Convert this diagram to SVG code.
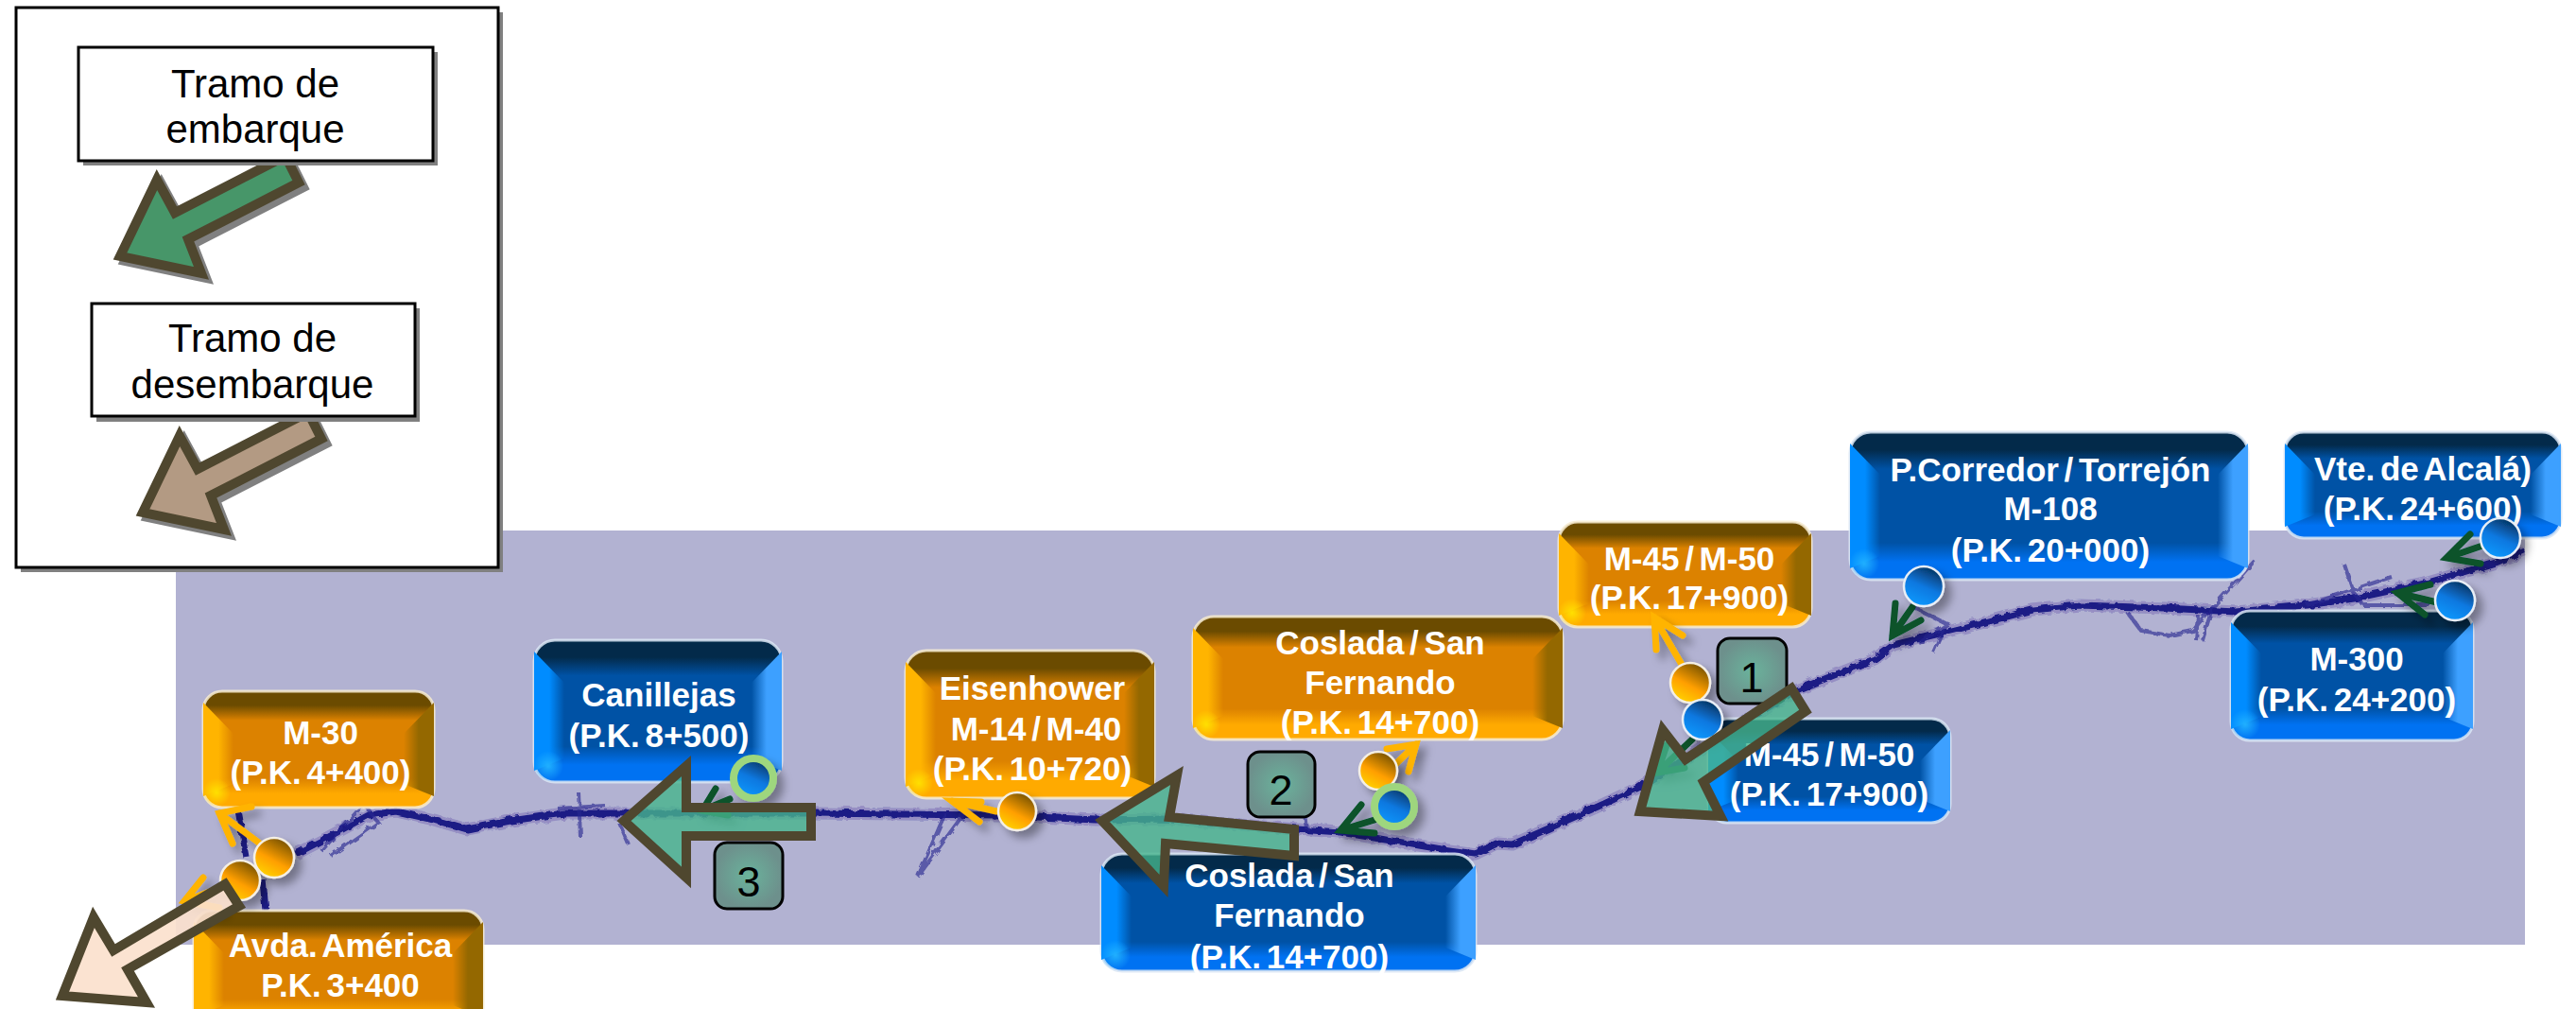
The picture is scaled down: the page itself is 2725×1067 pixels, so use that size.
<svg xmlns="http://www.w3.org/2000/svg" width="2725" height="1067" viewBox="0 0 2725 1067">
<style>
text{font-family:"Liberation Sans",Arial,sans-serif;text-anchor:middle}
.w{font-weight:700;font-size:35px;fill:#fff;word-spacing:-4px}
.k{font-size:42px;fill:#000}
.n{font-size:45px;fill:#000}
.bb{fill:url(#gB);stroke:#dbe6f4;stroke-width:3;stroke-opacity:.85}
.bo{fill:url(#gO);stroke:#f7ecd2;stroke-width:3;stroke-opacity:.85}
.bl{fill:url(#bL)}.br{fill:url(#bR)}.ol{fill:url(#oL)}.or{fill:url(#oR)}
.hb{fill:url(#hB)}.ho{fill:url(#hO)}
.cb{fill:url(#dB);stroke:#e8eef6;stroke-width:2.5}
.co{fill:url(#dO);stroke:#f4efe4;stroke-width:2.5}
.cg{fill:url(#dB);stroke:#9ed67e;stroke-width:8}
.y{fill:none;stroke:#ffb400;stroke-width:7;stroke-linecap:round;stroke-linejoin:miter}
.g{fill:none;stroke:#07522a;stroke-width:7;stroke-linecap:round;stroke-linejoin:miter}
.t{fill:none;stroke:#1c1a85;stroke-width:7;stroke-linejoin:round}
.tt{fill:none;stroke:#2a2890;stroke-width:4;stroke-opacity:.65}
.h{fill:none;stroke:#1c1a85;stroke-width:13;stroke-opacity:.2;stroke-linejoin:round}
.big{stroke:#4f472f;stroke-width:10;stroke-linejoin:miter}
.te{fill:#46b48c;fill-opacity:.8}
.pa{fill:#fbe1cd;fill-opacity:.92}
.sd{fill:#808080}
.badge{fill:url(#gBadge);stroke:#000;stroke-width:3}
.leg{fill:#fff;stroke:#000;stroke-width:3}
</style>
<defs>
<linearGradient id="gB" x1="0" y1="0" x2="0" y2="1"><stop offset="0" stop-color="#032a4a"/><stop offset=".12" stop-color="#032a4a"/><stop offset=".25" stop-color="#0052a5"/><stop offset=".75" stop-color="#0052a5"/><stop offset=".88" stop-color="#0072f2"/><stop offset="1" stop-color="#0072f2"/></linearGradient>
<linearGradient id="gO" x1="0" y1="0" x2="0" y2="1"><stop offset="0" stop-color="#6b4b00"/><stop offset=".12" stop-color="#6b4b00"/><stop offset=".25" stop-color="#dc8200"/><stop offset=".75" stop-color="#dc8200"/><stop offset=".88" stop-color="#ffaa00"/><stop offset="1" stop-color="#ffaa00"/></linearGradient>
<linearGradient id="bL"><stop offset="0" stop-color="#008cff"/><stop offset=".5" stop-color="#008cff"/><stop offset="1" stop-color="#008cff" stop-opacity="0"/></linearGradient>
<linearGradient id="bR"><stop offset="0" stop-color="#3da0ff" stop-opacity="0"/><stop offset=".5" stop-color="#3da0ff"/><stop offset="1" stop-color="#3da0ff"/></linearGradient>
<linearGradient id="oL"><stop offset="0" stop-color="#ffb400"/><stop offset=".5" stop-color="#ffb400"/><stop offset="1" stop-color="#ffb400" stop-opacity="0"/></linearGradient>
<linearGradient id="oR"><stop offset="0" stop-color="#946800" stop-opacity="0"/><stop offset=".5" stop-color="#946800"/><stop offset="1" stop-color="#946800"/></linearGradient>
<radialGradient id="hB"><stop offset="0" stop-color="#20b0ff"/><stop offset="1" stop-color="#20b0ff" stop-opacity="0"/></radialGradient>
<radialGradient id="hO"><stop offset="0" stop-color="#ffe000"/><stop offset="1" stop-color="#ffe000" stop-opacity="0"/></radialGradient>
<linearGradient id="dB" x1=".25" y1="1" x2=".7" y2="0"><stop offset="0" stop-color="#0f9bff"/><stop offset=".5" stop-color="#0a78e0"/><stop offset="1" stop-color="#05305a"/></linearGradient>
<linearGradient id="dO" x1=".2" y1="1" x2=".75" y2="0"><stop offset="0" stop-color="#ffd800"/><stop offset=".45" stop-color="#ff9f00"/><stop offset="1" stop-color="#6e4d00"/></linearGradient>
<radialGradient id="gBadge"><stop offset="0" stop-color="#6ab39c"/><stop offset="1" stop-color="#6d908c"/></radialGradient>
<filter id="ds" x="-50%" y="-50%" width="220%" height="220%"><feDropShadow dx="7" dy="7" stdDeviation="5" flood-color="#000" flood-opacity=".35"/></filter>
<filter id="rag" x="-2%" y="-10%" width="104%" height="120%"><feTurbulence type="fractalNoise" baseFrequency=".12" numOctaves="2" seed="4"/><feDisplacementMap in="SourceGraphic" scale="6"/></filter>
<path id="legArrow" d="M166 190L127 271L213 289L199 253L316 193L302 165L185 225Z"/>
</defs>

<rect id="map-background" x="186" y="561" width="2485" height="438" fill="#b2b2d2"/>

<g id="track" filter="url(#rag)">
<path class="h" d="M313 903L344 887L390 862L419 858L459 867L494 877L540 868L597 860L660 860L861 860L1056 862L1159 867L1237 866L1373 877L1418 880L1525 898L1561 903L1583 892L1600 893L1697 850L1733 833L1900 730L1983 697L2003 682L2080 663L2150 645L2200 640L2290 643L2365 647L2440 640L2490 633L2565 617L2640 595L2670 582"/>
<path class="t" d="M313 903L344 887L390 862L419 858L459 867L494 877L540 868L597 860L660 860L861 860L1056 862L1159 867L1237 866L1373 877L1418 880L1525 898L1561 903L1583 892L1600 893L1697 850L1733 833L1900 730L1983 697L2003 682L2080 663L2150 645L2200 640L2290 643L2365 647L2440 640L2490 633L2565 617L2640 595L2670 582"/>
<path class="t" d="M252 857L261 907M278 930L281 963"/>
<path class="tt" d="M340 900L385 850L400 870L350 905M612 838L614 885M590 855L640 852M655 870L665 893M1000 860L971 927L1020 860M1380 860L1382 877M2020 640L2060 660L2030 680M2058 660L2045 690M2385 593L2340 643L2330 677M2480 597L2490 627L2500 640M2250 647L2265 667L2295 672L2320 667L2335 647M2323 677L2325 650M2440 640L2530 610M2500 640L2570 640"/>
</g>

<g id="node-canillejas"><rect class="bb" x="565" y="677" width="262" height="150" rx="22"/><polygon class="bl" points="565,689 597,722 597,802 565,815"/><polygon class="br" points="827,689 795,722 795,802 827,815"/><circle class="hb" cx="580" cy="810" r="16"/><text class="w" x="697" y="747">Canillejas</text><text class="w" x="697" y="790">(P.K. 8+500)</text></g>
<g id="node-coslada-blue"><rect class="bb" x="1165" y="903" width="396" height="124" rx="22"/><polygon class="bl" points="1165,915 1197,948 1197,1002 1165,1015"/><polygon class="br" points="1561,915 1529,948 1529,1002 1561,1015"/><circle class="hb" cx="1180" cy="1010" r="16"/><text class="w" x="1364" y="938">Coslada / San</text><text class="w" x="1364" y="980">Fernando</text><text class="w" x="1364" y="1024">(P.K. 14+700)</text></g>
<g id="node-m45-blue"><rect class="bb" x="1807" y="760" width="256" height="110" rx="20"/><polygon class="bl" points="1807,772 1839,805 1839,845 1807,858"/><polygon class="br" points="2063,772 2031,805 2031,845 2063,858"/><text class="w" x="1935" y="810">M-45 / M-50</text><text class="w" x="1935" y="852">(P.K. 17+900)</text></g>
<g id="node-corredor"><rect class="bb" x="1957" y="457" width="421" height="156" rx="22"/><polygon class="bl" points="1957,469 1989,502 1989,588 1957,601"/><polygon class="br" points="2378,469 2346,502 2346,588 2378,601"/><circle class="hb" cx="1972" cy="596" r="16"/><text class="w" x="2169" y="509">P.Corredor / Torrejón</text><text class="w" x="2169" y="550">M-108</text><text class="w" x="2169" y="594">(P.K. 20+000)</text></g>
<g id="node-alcala"><rect class="bb" x="2417" y="457" width="292" height="112" rx="20"/><polygon class="bl" points="2417,469 2449,502 2449,544 2417,557"/><polygon class="br" points="2709,469 2677,502 2677,544 2709,557"/><text class="w" x="2563" y="508">Vte. de Alcalá)</text><text class="w" x="2563" y="550">(P.K. 24+600)</text></g>
<g id="node-m300"><rect class="bb" x="2360" y="646" width="256" height="137" rx="20"/><polygon class="bl" points="2360,658 2392,691 2392,758 2360,771"/><polygon class="br" points="2616,658 2584,691 2584,758 2616,771"/><circle class="hb" cx="2375" cy="766" r="16"/><text class="w" x="2493" y="709">M-300</text><text class="w" x="2493" y="752">(P.K. 24+200)</text></g>
<g id="node-m30"><rect class="bo" x="215" y="731" width="244" height="123" rx="20"/><polygon class="ol" points="215,743 247,776 247,829 215,842"/><polygon class="or" points="459,743 427,776 427,829 459,842"/><circle class="ho" cx="229" cy="838" r="15"/><text class="w" x="339" y="787">M-30</text><text class="w" x="339" y="829">(P.K. 4+400)</text></g>
<g id="node-america"><rect class="bo" x="205" y="963" width="306" height="125" rx="20"/><polygon class="ol" points="205,975 237,1008 237,1063 205,1076"/><polygon class="or" points="511,975 479,1008 479,1063 511,1076"/><text class="w" x="360" y="1012">Avda. América</text><text class="w" x="360" y="1054">P.K. 3+400</text></g>
<g id="node-eisenhower"><rect class="bo" x="958" y="688" width="263" height="156" rx="22"/><polygon class="ol" points="958,700 990,733 990,819 958,832"/><polygon class="or" points="1221,700 1189,733 1189,819 1221,832"/><circle class="ho" cx="972" cy="828" r="15"/><text class="w" x="1092" y="740">Eisenhower</text><text class="w" x="1096" y="783">M-14 / M-40</text><text class="w" x="1092" y="825">(P.K. 10+720)</text></g>
<g id="node-coslada-orange"><rect class="bo" x="1262" y="652" width="391" height="130" rx="22"/><polygon class="ol" points="1262,664 1294,697 1294,757 1262,770"/><polygon class="or" points="1653,664 1621,697 1621,757 1653,770"/><circle class="ho" cx="1276" cy="766" r="15"/><text class="w" x="1460" y="692">Coslada / San</text><text class="w" x="1460" y="734">Fernando</text><text class="w" x="1460" y="776">(P.K. 14+700)</text></g>
<g id="node-m45-orange"><rect class="bo" x="1649" y="552" width="267" height="111" rx="20"/><polygon class="ol" points="1649,564 1681,597 1681,638 1649,651"/><polygon class="or" points="1916,564 1884,597 1884,638 1916,651"/><circle class="ho" cx="1663" cy="648" r="15"/><text class="w" x="1787" y="603">M-45 / M-50</text><text class="w" x="1787" y="644">(P.K. 17+900)</text></g>

<g id="connectors" filter="url(#ds)">
<path class="y" d="M275 892L232 860M246 892L232 860L266 853"/>
<path class="y" d="M254 931L195 953M215 928L195 953L232 960"/>
<path class="y" d="M1054 858L1007 847M1036 869L1007 847L1038 848"/>
<path class="y" d="M1462 822L1498 787M1467 792L1498 787L1490 816"/>
<path class="y" d="M1778 701L1750 653M1752 687L1750 653L1780 672"/>
<path class="g" d="M1454 867L1418 878M1440 851L1418 878L1454 881"/>
<path class="g" d="M1790 782L1753 817M1763 788L1753 817L1782 812"/>
<path class="g" d="M2023 642L2002 672M2005 638L2002 672L2032 656"/>
<path class="g" d="M2626 577L2588 590M2613 565L2588 590L2624 596"/>
<path class="g" d="M2578 637L2536 627M2571 618L2536 627L2565 650"/>
<path class="g" d="M772 845L743 857M757 834L743 857L770 862"/>
</g>

<g id="stops" filter="url(#ds)">
<circle id="stop-m30" class="co" cx="290" cy="907" r="21"/>
<circle id="stop-america" class="co" cx="254" cy="931" r="21"/>
<circle id="stop-canillejas" class="cg" cx="797" cy="823" r="21"/>
<circle id="stop-eisenhower" class="co" cx="1076" cy="858" r="20"/>
<circle id="stop-coslada-o" class="co" cx="1458" cy="815" r="20"/>
<circle id="stop-coslada-b" class="cg" cx="1475" cy="853" r="21"/>
<circle id="stop-m45-o" class="co" cx="1788" cy="722" r="21"/>
<circle id="stop-m45-b" class="cb" cx="1801" cy="761" r="21"/>
<circle id="stop-corredor" class="cb" cx="2035" cy="620" r="21"/>
<circle id="stop-alcala" class="cb" cx="2645" cy="569" r="21"/>
<circle id="stop-m300" class="cb" cx="2597" cy="635" r="21"/>
</g>

<g id="badge-1"><rect class="badge" x="1817" y="675" width="73" height="69" rx="13"/><text class="n" x="1853" y="732">1</text></g>
<g id="badge-2"><rect class="badge" x="1320" y="795" width="71" height="69" rx="13"/><text class="n" x="1355" y="851">2</text></g>
<g id="badge-3"><rect class="badge" x="756" y="891" width="72" height="70" rx="13"/><text class="n" x="792" y="948">3</text></g>

<g id="big-arrows">
<path id="arrow-1" class="big te" d="M1895 728L1910 752L1802 827L1820 863L1735 858L1759 772L1783 803Z"/>
<path id="arrow-2" class="big te" d="M1166 868L1245 820L1237 864L1369 877L1369 905L1233 892L1231 937Z"/>
<path id="arrow-3" class="big te" d="M660 868L726 810L726 854L858 854L858 884L726 884L726 928Z"/>
<path id="arrow-pale" class="big pa" d="M238 935L253 958L135 1025L155 1060L66 1053L99 970L120 1005Z"/>
</g>

<g id="legend">
<rect class="sd" x="22" y="13" width="510" height="592"/>
<rect class="leg" x="17" y="8" width="510" height="592"/>
<use href="#legArrow" class="sd" x="5" y="5" stroke="#808080" stroke-width="10"/>
<use href="#legArrow" class="big" fill="#479669"/>
<g id="legend-embarque"><rect class="sd" x="88" y="55" width="375" height="120"/><rect class="leg" x="83" y="50" width="375" height="120"/><text class="k" x="270" y="103">Tramo de</text><text class="k" x="270" y="151">embarque</text></g>
<use href="#legArrow" class="sd" x="29" y="276" stroke="#808080" stroke-width="10"/>
<use href="#legArrow" class="big" fill="#b39a83" x="24" y="271"/>
<g id="legend-desembarque"><rect class="sd" x="102" y="326" width="342" height="120"/><rect class="leg" x="97" y="321" width="342" height="119"/><text class="k" x="267" y="372">Tramo de</text><text class="k" x="267" y="421">desembarque</text></g>
</g>
</svg>
